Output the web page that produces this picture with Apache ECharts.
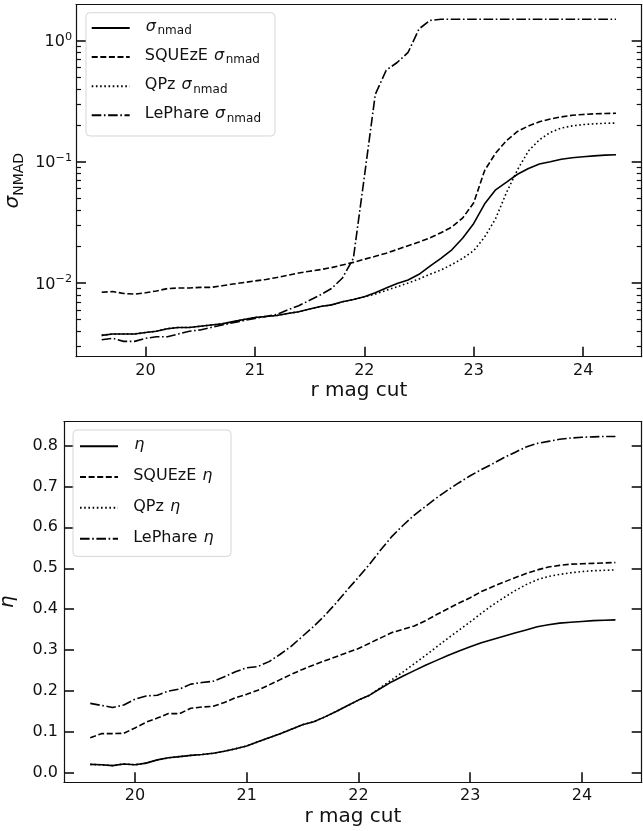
<!DOCTYPE html>
<html>
<head>
<meta charset="utf-8">
<script src="https://cdn.jsdelivr.net/npm/echarts@6/dist/echarts.min.js"></script>
<style>
html,body{margin:0;padding:0;background:#fff}
#c{width:643px;height:831px}
</style>
</head>
<body>
<div id="c"></div>
<script>
// ---------------- data ----------------
const rmag = [19.6,19.7,19.8,19.9,20.0,20.1,20.2,20.3,20.4,20.5,
              20.6,20.7,20.8,20.9,21.0,21.1,21.2,21.3,21.4,21.5,
              21.6,21.7,21.8,21.9,22.0,22.1,22.2,22.3,22.4,22.5,
              22.6,22.7,22.8,22.9,23.0,23.1,23.2,23.3,23.4,23.5,
              23.6,23.7,23.8,23.9,24.0,24.1,24.2,24.3];

const sigmaNmad = [0.0037,0.0038,0.0038,0.0038,0.0039,0.0040,0.0042,0.0043,0.0043,0.0044,
                   0.0045,0.0046,0.0048,0.0050,0.0052,0.0053,0.0054,0.0056,0.0058,0.0061,
                   0.0064,0.0066,0.0070,0.0073,0.0077,0.0083,0.0091,0.0099,0.0106,0.0118,
                   0.0138,0.0160,0.0188,0.0235,0.0310,0.0450,0.0588,0.0680,0.0790,0.0880,
                   0.0960,0.1000,0.1050,0.1080,0.1100,0.1120,0.1135,0.1145];

const sigmaSqueze = [0.0084,0.0085,0.0082,0.0081,0.0083,0.0086,0.0090,0.0091,0.0091,0.0092,
                     0.0092,0.0095,0.0098,0.0101,0.0104,0.0107,0.0111,0.0116,0.0121,0.0125,
                     0.0129,0.0134,0.0141,0.0148,0.0157,0.0166,0.0176,0.0189,0.0203,0.0218,
                     0.0236,0.0260,0.0290,0.0345,0.0460,0.0850,0.1180,0.1500,0.1780,0.1980,
                     0.2140,0.2260,0.2350,0.2420,0.2460,0.2490,0.2505,0.2515];

const sigmaQpz = [0.0037,0.0038,0.0038,0.0038,0.0039,0.0040,0.0042,0.0043,0.0043,0.0044,
                  0.0045,0.0046,0.0048,0.0050,0.0052,0.0053,0.0054,0.0056,0.0058,0.0061,
                  0.0064,0.0066,0.0070,0.0073,0.0077,0.0081,0.0087,0.0093,0.0100,0.0108,
                  0.0118,0.0128,0.0142,0.0160,0.0185,0.0240,0.0340,0.0560,0.0860,0.1230,
                  0.1520,0.1750,0.1900,0.1980,0.2030,0.2060,0.2080,0.2090];

const sigmaLephare = [0.0034,0.0035,0.0033,0.0033,0.0035,0.0036,0.0036,0.0038,0.0040,0.0041,
                      0.0043,0.0045,0.0047,0.0049,0.0051,0.0053,0.0055,0.0060,0.0065,0.0072,
                      0.0080,0.0090,0.0110,0.0160,0.0750,0.3600,0.5700,0.6600,0.8000,1.2500,
                      1.4700,1.5000,1.5000,1.5000,1.5000,1.5000,1.5000,1.5000,1.5000,1.5000,
                      1.5000,1.5000,1.5000,1.5000,1.5000,1.5000,1.5000,1.5000];

const etaAll = [0.021,0.020,0.018,0.022,0.020,0.024,0.032,0.037,0.040,0.043,
                0.045,0.048,0.053,0.059,0.066,0.076,0.086,0.096,0.107,0.118,
                0.125,0.137,0.150,0.164,0.178,0.190,0.207,0.223,0.237,0.250,
                0.263,0.275,0.287,0.298,0.308,0.318,0.326,0.334,0.342,0.349,
                0.357,0.362,0.366,0.368,0.370,0.372,0.373,0.374];

const etaSqueze = [0.086,0.096,0.096,0.097,0.110,0.124,0.134,0.145,0.145,0.158,
                   0.161,0.163,0.172,0.184,0.192,0.202,0.215,0.228,0.241,0.253,
                   0.264,0.274,0.284,0.294,0.304,0.317,0.330,0.343,0.351,0.359,
                   0.372,0.387,0.401,0.415,0.428,0.443,0.455,0.466,0.477,0.487,
                   0.496,0.503,0.507,0.510,0.511,0.512,0.513,0.514];

const etaQpz = [0.021,0.020,0.018,0.022,0.020,0.024,0.032,0.037,0.040,0.043,
                0.045,0.048,0.053,0.059,0.066,0.076,0.086,0.096,0.107,0.118,
                0.125,0.137,0.150,0.164,0.178,0.190,0.209,0.228,0.247,0.267,
                0.287,0.308,0.329,0.349,0.369,0.390,0.410,0.428,0.445,0.460,
                0.472,0.480,0.485,0.489,0.492,0.494,0.495,0.496];

const etaLephare = [0.170,0.165,0.160,0.166,0.180,0.188,0.190,0.200,0.205,0.217,
                    0.221,0.224,0.235,0.247,0.257,0.260,0.272,0.290,0.310,0.334,
                    0.358,0.385,0.415,0.447,0.478,0.510,0.545,0.578,0.605,0.630,
                    0.651,0.672,0.691,0.709,0.726,0.741,0.755,0.770,0.783,0.796,
                    0.805,0.810,0.815,0.818,0.820,0.821,0.822,0.822];

const xTicks = [20, 21, 22, 23, 24];
const sigmaMajorTicks = [0.01, 0.1, 1];
const sigmaMinorTicks = [0.003,0.004,0.005,0.006,0.007,0.008,0.009,
                         0.02,0.03,0.04,0.05,0.06,0.07,0.08,0.09,
                         0.2,0.3,0.4,0.5,0.6,0.7,0.8,0.9];
const etaTicks = [0.0,0.1,0.2,0.3,0.4,0.5,0.6,0.7,0.8];

// ---------------- chart ----------------
const FONT = 'DejaVu Sans';
const INK = '#111';
const X_MIN = 19.365, X_MAX = 24.535;
const SIG_MIN = 0.002466, SIG_MAX = 1.98;
const ETA_MIN = -0.0228, ETA_MAX = 0.858;
const lg = v => Math.log10(v);

const pairs = (xs, ys) => xs.map((x, i) => [x, ys[i]]);

const DASHED = [6, 2.6];
const DOTTED = [1.6, 2.6];
const DASHDOT = [9.6, 2.6, 1.6, 2.6];
const LW = 1.6;

function lineSeries(name, data, type, xi, yi) {
  return {
    name, type: 'line', data, xAxisIndex: xi, yAxisIndex: yi,
    symbol: 'none', showSymbol: false, smooth: false, animation: false,
    lineStyle: { color: '#000', width: LW, type: type, cap: 'butt' },
    itemStyle: { color: '#000' },
    emphasis: { disabled: true }
  };
}

const spine = { show: true, onZero: false, lineStyle: { color: INK, width: 1.2 } };
const noLine = { show: false };

function majTick(vals) {
  return { show: true, inside: true, length: 10, customValues: vals,
           lineStyle: { color: INK, width: 1.6 } };
}
function minTick(vals) {
  return { show: true, inside: true, length: 5, customValues: vals,
           lineStyle: { color: INK, width: 1.2 } };
}

const tickText = { fontFamily: FONT, fontSize: 16, color: INK };

function xAxisPair(gi) {
  return [
    {
      gridIndex: gi, type: 'value', min: X_MIN, max: X_MAX, position: 'bottom',
      axisLine: spine, axisTick: majTick(xTicks),
      axisLabel: Object.assign({ show: true, customValues: xTicks, margin: 6,
                                 formatter: v => String(Math.round(v)) }, tickText),
      splitLine: { show: false },
      name: 'r mag cut', nameLocation: 'middle', nameGap: 24,
      nameTextStyle: { fontFamily: FONT, fontSize: 20, color: INK }
    },
    {
      gridIndex: gi, type: 'value', min: X_MIN, max: X_MAX, position: 'top',
      axisLine: spine, axisTick: { show: false }, axisLabel: { show: false },
      splitLine: { show: false }
    }
  ];
}

const logMajor = sigmaMajorTicks.map(lg);
const logMinor = sigmaMinorTicks.map(lg);

const supRich = {
  b: { fontFamily: FONT, fontSize: 16, color: INK, verticalAlign: 'bottom', lineHeight: 19 },
  s: { fontFamily: FONT, fontSize: 11.2, color: INK, verticalAlign: 'top', lineHeight: 19 }
};
function powLabel(v) {
  const n = Math.round(v);
  const e = n < 0 ? '\u2212' + (-n) : String(n);
  return '{b|10}{s|' + e + '}';
}

const yAxes = [
  // 0: log axis carrying the sigma series
  {
    gridIndex: 0, type: 'log', logBase: 10, min: SIG_MIN, max: SIG_MAX, position: 'left',
    axisLine: spine, axisTick: { show: false }, axisLabel: { show: false },
    splitLine: { show: false }, minorTick: { show: false },
    name: '{m|\u03c3}{sub|NMAD}', nameLocation: 'middle', nameGap: 50, nameRotate: 90,
    nameTextStyle: {
      rich: {
        m: { fontFamily: FONT, fontSize: 20, fontStyle: 'italic', color: INK, verticalAlign: 'top', lineHeight: 20 },
        sub: { fontFamily: FONT, fontSize: 14, color: INK, verticalAlign: 'bottom', lineHeight: 23 }
      }
    }
  },
  // 1: left major ticks + labels (log10 space)
  {
    gridIndex: 0, type: 'value', min: lg(SIG_MIN), max: lg(SIG_MAX), position: 'left',
    axisLine: noLine, axisTick: majTick(logMajor),
    axisLabel: { show: true, customValues: logMajor, margin: 4, formatter: powLabel, rich: supRich },
    splitLine: { show: false }
  },
  // 2: left minor ticks
  {
    gridIndex: 0, type: 'value', min: lg(SIG_MIN), max: lg(SIG_MAX), position: 'left',
    axisLine: noLine, axisTick: minTick(logMinor), axisLabel: { show: false },
    splitLine: { show: false }
  },
  // 3: right major ticks
  {
    gridIndex: 0, type: 'value', min: lg(SIG_MIN), max: lg(SIG_MAX), position: 'right',
    axisLine: spine, axisTick: majTick(logMajor), axisLabel: { show: false },
    splitLine: { show: false }
  },
  // 4: right minor ticks
  {
    gridIndex: 0, type: 'value', min: lg(SIG_MIN), max: lg(SIG_MAX), position: 'right',
    axisLine: noLine, axisTick: minTick(logMinor), axisLabel: { show: false },
    splitLine: { show: false }
  },
  // 5: eta left
  {
    gridIndex: 1, type: 'value', min: ETA_MIN, max: ETA_MAX, position: 'left',
    axisLine: spine, axisTick: majTick(etaTicks),
    axisLabel: Object.assign({ show: true, customValues: etaTicks, margin: 6,
                               formatter: v => v.toFixed(1) }, tickText),
    splitLine: { show: false },
    name: '\u03b7', nameLocation: 'middle', nameGap: 46, nameRotate: 90,
    nameTextStyle: { fontFamily: FONT, fontSize: 20, fontStyle: 'italic', color: INK }
  },
  // 6: eta right ticks
  {
    gridIndex: 1, type: 'value', min: ETA_MIN, max: ETA_MAX, position: 'right',
    axisLine: spine, axisTick: majTick(etaTicks), axisLabel: { show: false },
    splitLine: { show: false }
  }
];

const legRich = {
  r: { fontFamily: FONT, fontSize: 16, color: INK, verticalAlign: 'top', lineHeight: 18.5 },
  m: { fontFamily: FONT, fontSize: 16, fontStyle: 'italic', color: INK, verticalAlign: 'top', lineHeight: 18.5, padding: [0, 1.5, 0, 1] },
  sub: { fontFamily: FONT, fontSize: 12, color: INK, verticalAlign: 'bottom', lineHeight: 18.5 }
};

const NB = '\u00a0\u00a0';
const sigNames = ['sig_all', 'sig_squeze', 'sig_qpz', 'sig_lephare'];
const etaNames = ['eta_all', 'eta_squeze', 'eta_qpz', 'eta_lephare'];
const legendText = {
  sig_all: '{r|' + NB + '}{m|\u03c3}{sub|nmad}',
  sig_squeze: '{r|' + NB + 'SQUEzE }{m|\u03c3}{sub|nmad}',
  sig_qpz: '{r|' + NB + 'QPz }{m|\u03c3}{sub|nmad}',
  sig_lephare: '{r|' + NB + 'LePhare }{m|\u03c3}{sub|nmad}',
  eta_all: '{r|' + NB + '}{m|\u03b7}',
  eta_squeze: '{r|' + NB + 'SQUEzE }{m|\u03b7}',
  eta_qpz: '{r|' + NB + 'QPz }{m|\u03b7}',
  eta_lephare: '{r|' + NB + 'LePhare }{m|\u03b7}'
};

function legendCfg(names, left, top, padding, gap) {
  return {
    data: names, orient: 'vertical', left, top, padding, itemGap: gap,
    itemWidth: 38, itemHeight: 10, selectedMode: false,
    backgroundColor: 'rgba(255,255,255,0.8)',
    borderColor: 'rgba(204,204,204,0.8)', borderWidth: 1, borderRadius: 4,
    itemStyle: { opacity: 0 },
    formatter: n => legendText[n],
    textStyle: { rich: legRich, fontFamily: FONT, fontSize: 16, color: INK }
  };
}

const option = {
  animation: false,
  backgroundColor: '#fff',
  grid: [
    { left: 76, right: 1.3, top: 4.7, bottom: 831 - 356.7, outerBoundsMode: 'none', containLabel: false },
    { left: 64, right: 1.3, top: 421.7, bottom: 831 - 782.3, outerBoundsMode: 'none', containLabel: false }
  ],
  xAxis: [].concat(xAxisPair(0), xAxisPair(1)),
  yAxis: yAxes,
  legend: [
    legendCfg(sigNames, 86, 12.7, [6, 14, 11.5, 4.7], 10.6),
    legendCfg(etaNames, 73, 430, [7, 16, 11, 6], 14.8)
  ],
  series: [
    lineSeries('sig_all', pairs(rmag, sigmaNmad), 'solid', 0, 0),
    lineSeries('sig_squeze', pairs(rmag, sigmaSqueze), DASHED, 0, 0),
    lineSeries('sig_qpz', pairs(rmag, sigmaQpz), DOTTED, 0, 0),
    lineSeries('sig_lephare', pairs(rmag, sigmaLephare), DASHDOT, 0, 0),
    lineSeries('eta_all', pairs(rmag, etaAll), 'solid', 2, 5),
    lineSeries('eta_squeze', pairs(rmag, etaSqueze), DASHED, 2, 5),
    lineSeries('eta_qpz', pairs(rmag, etaQpz), DOTTED, 2, 5),
    lineSeries('eta_lephare', pairs(rmag, etaLephare), DASHDOT, 2, 5)
  ]
};

const chart = echarts.init(document.getElementById('c'), null, { renderer: 'canvas' });
chart.setOption(option);
</script>
</body>
</html>
